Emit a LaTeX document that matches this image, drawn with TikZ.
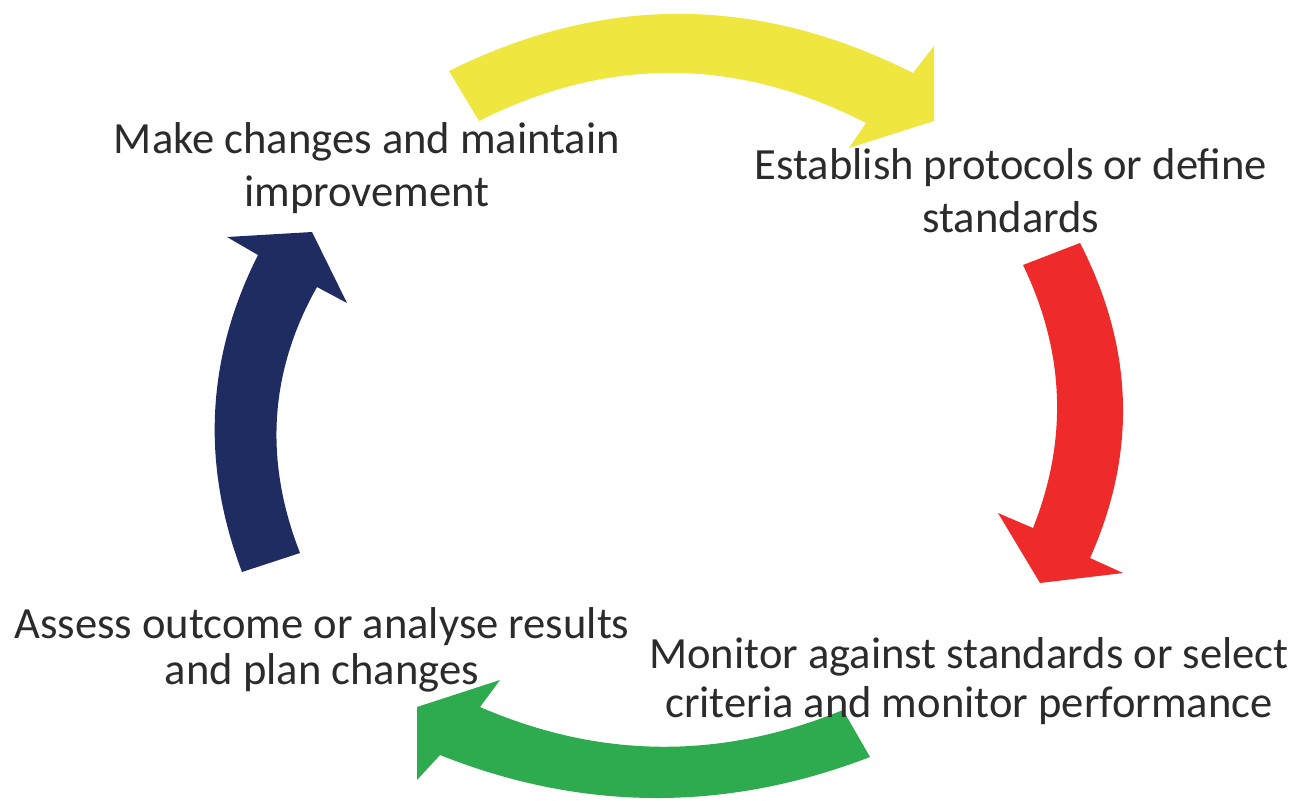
\documentclass[tikz,border=0pt]{standalone}
\usepackage{fontspec}
\setmainfont{Carlito}
\definecolor{cyel}{HTML}{EFE63F}
\definecolor{cred}{HTML}{EE2A2A}
\definecolor{cgrn}{HTML}{2EAB4F}
\definecolor{cnav}{HTML}{1F2C62}
\definecolor{ctxt}{HTML}{2B2B2B}
\tikzset{
  lbl/.style={text=ctxt, align=center, inner sep=0pt, anchor=base},
  arr/.style={draw=none}
}
\begin{document}
\begin{tikzpicture}[x=1pt,y=-1pt]
\useasboundingbox[fill=white] (0,0) rectangle (1308,800);
% yellow (top)
\fill[cyel] (449,71) .. controls (604,-6) and (758,-5) .. (913,73)
  -- (934,46) -- (934,121) -- (849,148) -- (866,123)
  .. controls (737,57) and (608,56) .. (479,121) -- cycle;
% red (right)
\fill[cred] (1080,243) .. controls (1134,348) and (1137,453) .. (1090,558)
  -- (1123,573) -- (1040,583) -- (998,513) -- (1033,528)
  .. controls (1068,440) and (1065,352) .. (1023,265) -- cycle;
% green (bottom)
\fill[cgrn] (870,757) .. controls (727,812) and (583,812) .. (440,755)
  -- (417,780) -- (417,707) -- (500,680) -- (480,707)
  .. controls (600,759) and (721,760) .. (843,710) -- cycle;
% navy (left)
\fill[cnav] (242,572) .. controls (201,464) and (206,358) .. (258,255)
  -- (227,237) -- (312,232) -- (347,303) -- (317,287)
  .. controls (269,372) and (264,461) .. (300,553) -- cycle;
% labels
\node[lbl, font=\fontsize{44.6}{53}\selectfont] (t1) at (367,206) {Make changes and maintain\\improvement};
\node[lbl, font=\fontsize{44.6}{53}\selectfont] (t2) at (1011,232) {Establish protocols or define\\standards};
\node[lbl, font=\fontsize{44.6}{46}\selectfont] (t3) at (322,684) {Assess outcome or analyse results\\and plan changes};
\node[lbl, font=\fontsize{44.6}{49}\selectfont] (t4) at (969,717) {Monitor against standards or select\\criteria and monitor performance};
\end{tikzpicture}
\end{document}
